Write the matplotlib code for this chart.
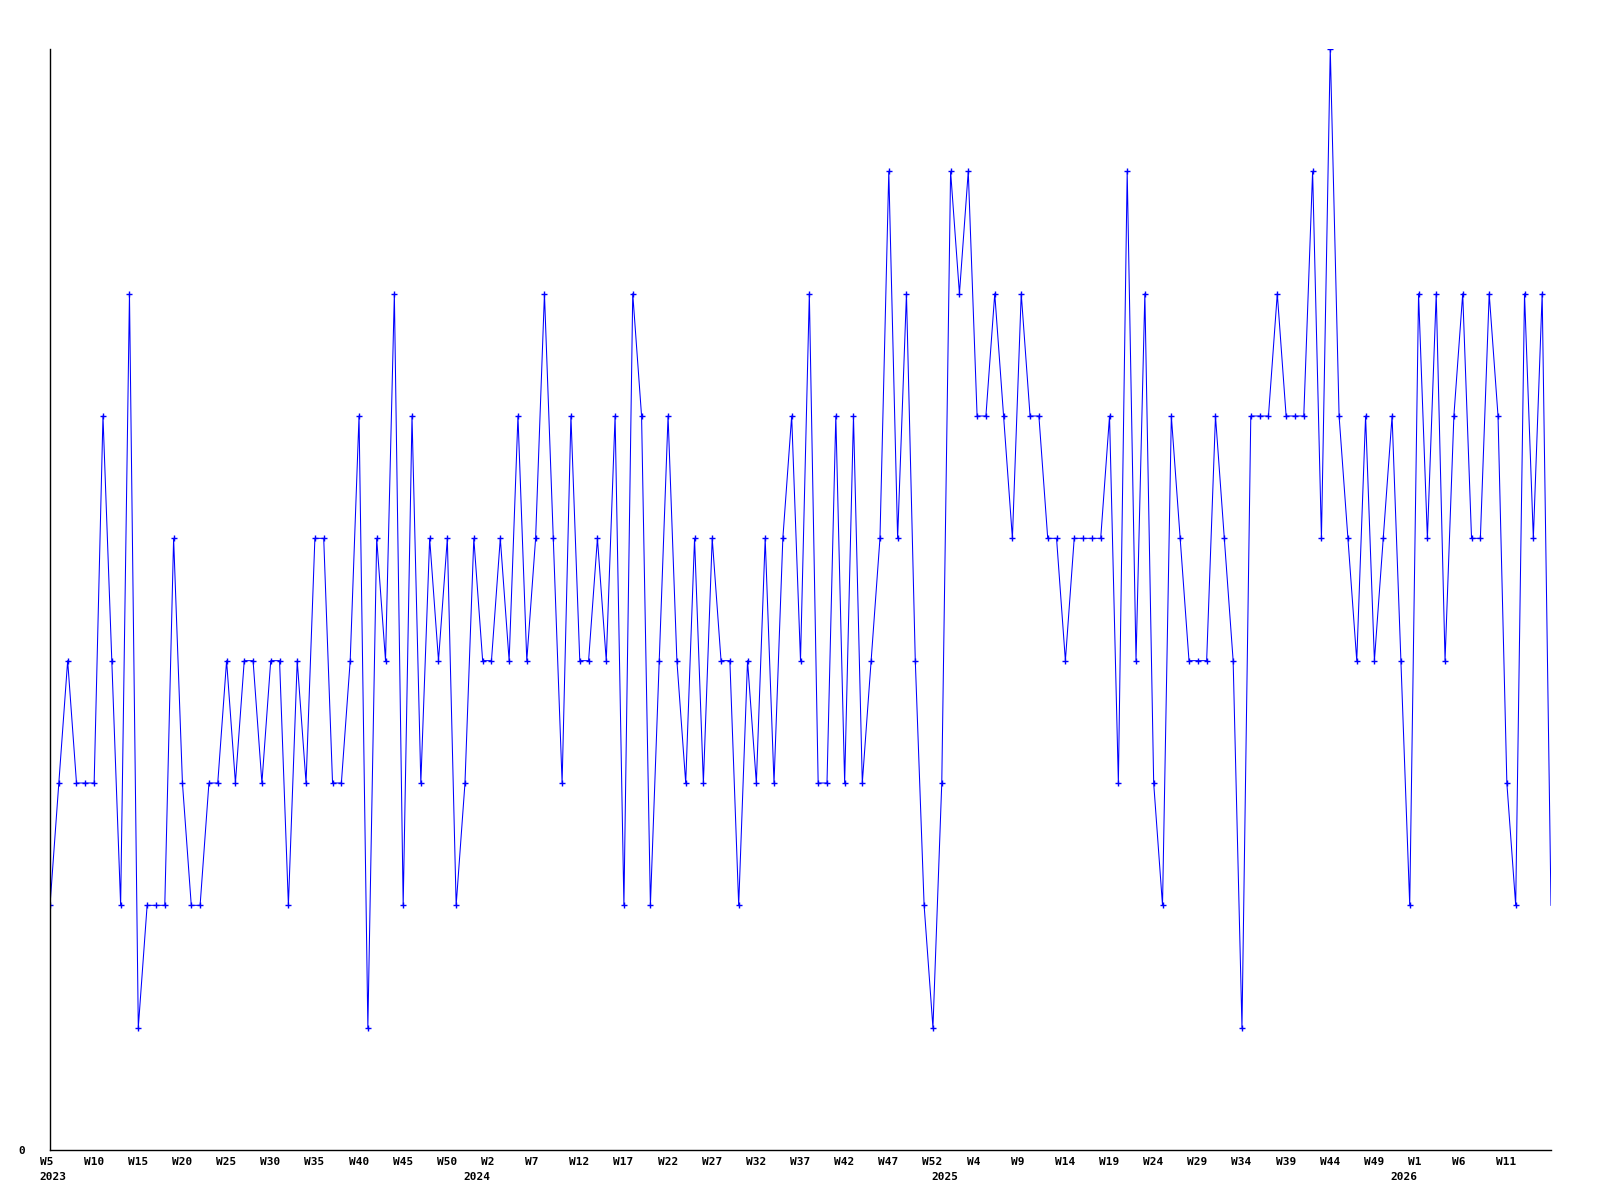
import matplotlib
matplotlib.use("Agg")
import matplotlib.pyplot as plt
import matplotlib.transforms as mtransforms

# Weekly counts, one point per week starting 2023 W5
values = [2, 3, 4, 3, 3, 3, 6, 4, 2, 7, 1, 2, 2, 2, 5, 3, 2, 2, 3, 3, 4, 3,
          4, 4, 3, 4, 4, 2, 4, 3, 5, 5, 3, 3, 4, 6, 1, 5, 4, 7, 2, 6, 3, 5,
          4, 5, 2, 3, 5, 4, 4, 5, 4, 6, 4, 5, 7, 5, 3, 6, 4, 4, 5, 4, 6,
          2, 7, 6, 2, 4, 6, 4, 3, 5, 3, 5, 4, 4, 2, 4, 3, 5, 3, 5, 6, 4, 7,
          3, 3, 6, 3, 6, 3, 4, 5, 8, 5, 7, 4, 2, 1, 3, 8, 7, 8, 6, 6, 7,
          6, 5, 7, 6, 6, 5, 5, 4, 5, 5, 5, 5, 6, 3, 8, 4, 7, 3, 2, 6, 5, 4,
          4, 4, 6, 5, 4, 1, 6, 6, 6, 7, 6, 6, 6, 8, 5, 9, 6, 5, 4, 6, 4,
          5, 6, 4, 2, 7, 5, 7, 4, 6, 7, 5, 5, 7, 6, 3, 2, 7, 5, 7, 2]
x = list(range(len(values)))

# Week tick labels, every 5th point
weekLabels = ["W5", "W10", "W15", "W20", "W25", "W30", "W35", "W40", "W45", "W50",
              "W2", "W7", "W12", "W17", "W22", "W27", "W32", "W37", "W42", "W47", "W52",
              "W4", "W9", "W14", "W19", "W24", "W29", "W34", "W39", "W44", "W49",
              "W1", "W6", "W11"]
weekTicks = list(range(0, 5 * len(weekLabels), 5))

# Year labels sit under the first point of each year
yearLabels = ["2023", "2024", "2025", "2026"]
yearTicks = [0, 48, 101, 153]

font = dict(family="DejaVu Sans Mono", weight="bold", size=8)

fig = plt.figure(figsize=(16, 12), dpi=100)
ax = fig.add_axes([50 / 1600, 1 - 1150 / 1200, 1501 / 1600, 1101 / 1200])

# line with small cross markers (no marker on the last point, as in the original)
ax.plot(x, values, color="#0000ff", linewidth=0.75,
        marker="+", markersize=5, markeredgewidth=1.0,
        markevery=slice(0, len(values) - 1))

ax.set_xlim(0, len(values) - 1)
ax.set_ylim(0, max(values))

for side in ["top", "right"]:
    ax.spines[side].set_visible(False)
for side in ["left", "bottom"]:
    ax.spines[side].set_linewidth(1.0)
    ax.spines[side].set_color("black")

ax.set_yticks([0])
ax.set_yticklabels(["0"], fontdict=font)
ax.tick_params(axis="y", length=0, pad=18)

# keep the 2023 label even though it shares a spot with the W5 tick
ax.xaxis.remove_overlapping_locs = False
ax.set_xticks(weekTicks)
ax.set_xticklabels(weekLabels, fontdict=font, ha="left")
ax.set_xticks(yearTicks, minor=True)
ax.set_xticklabels(yearLabels, minor=True, fontdict=font, ha="left")
ax.tick_params(axis="x", which="major", length=0, pad=5)
ax.tick_params(axis="x", which="minor", length=0, pad=16)

# shift x labels left so they start a little before the tick
shift = mtransforms.ScaledTranslation(-10.5 / 100, 0, fig.dpi_scale_trans)
for lbl in ax.get_xticklabels(which="both"):
    lbl.set_transform(lbl.get_transform() + shift)

fig.savefig("out.png", dpi=100, facecolor="white")
